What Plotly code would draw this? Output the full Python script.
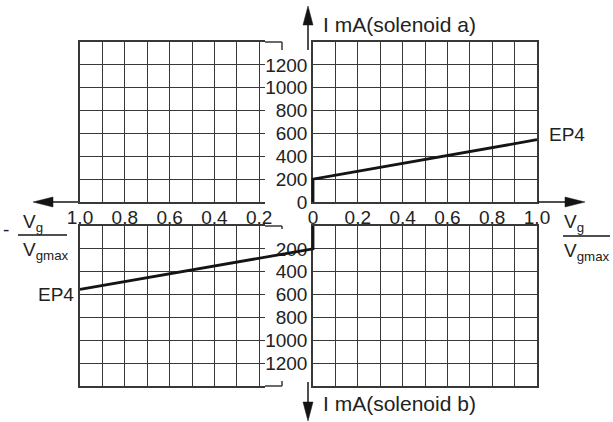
import plotly.graph_objects as go

# ---------------- data ----------------
ratio_a = [0.0, 0.0, 1.0]          # Vg/Vgmax (solenoid a side)
current_a = [0, 200, 545]          # I mA (solenoid a)
ratio_b = [0.0, 0.0, 1.0]          # -Vg/Vgmax (solenoid b side)
current_b = [0, 200, 555]          # I mA (solenoid b)

x_right_ticks = [0.0, 0.1, 0.2, 0.3, 0.4, 0.5, 0.6, 0.7, 0.8, 0.9, 1.0]
x_right_text = ["0", "", "0.2", "", "0.4", "", "0.6", "", "0.8", "", "1.0"]
x_left_ticks = [1.0, 0.9, 0.8, 0.7, 0.6, 0.5, 0.4, 0.3, 0.2]
x_left_text = ["1.0", "", "0.8", "", "0.6", "", "0.4", "", "0.2"]
y_ticks = [0, 200, 400, 600, 800, 1000, 1200, 1400]
y_top_text = ["0", "200", "400", "600", "800", "1000", "1200", ""]
y_bot_text = ["", "200", "400", "600", "800", "1000", "1200", ""]
curve_label = "EP4"
label_a = "I mA(solenoid a)"
label_b = "I mA(solenoid b)"

# ---------------- layout helpers ----------------
W, H = 613, 422
FONT = "Liberation Sans, Arial, sans-serif"
GRID = "#383838"
INK = "#141414"


def fx(p):
    return p / W


def fy(p):
    return 1 - p / H


# pixel geometry
L0, L1 = 80, 265          # left grids
R0, R1 = 313, 537         # right grids
T0, T1 = 42, 202          # top grids
B0, B1 = 226, 386         # bottom grids
PX_X = 224.0              # px per unit ratio (right)
PX_XL = 233.0             # px per unit ratio for left curve
PX_Y = 160.0 / 1400.0     # px per mA

fig = go.Figure()

common_grid = dict(showgrid=True, gridcolor=GRID, gridwidth=1.3, zeroline=False,
                   ticks="", showline=True, linecolor=GRID, linewidth=1.5,
                   automargin=False,
                   tickfont=dict(family=FONT, size=19, color="#222"), fixedrange=True)

left_range = [1.0, 1.0 - (L1 - L0) / PX_X]

layout = dict(
    width=W, height=H, margin=dict(l=0, r=0, t=0, b=0, autoexpand=False),
    paper_bgcolor="white", plot_bgcolor="rgba(0,0,0,0)", showlegend=False,
    # top-left
    xaxis=dict(common_grid, domain=[fx(L0), fx(L1)], anchor="y", range=left_range,
               tickmode="array", tickvals=x_left_ticks, ticktext=x_left_text,
               mirror=True, ticklabelstandoff=-3),
    yaxis=dict(common_grid, domain=[fy(T1), fy(T0)], anchor="x", range=[0, 1400],
               tickmode="array", tickvals=y_ticks, showticklabels=False, mirror=False),
    # top-right
    xaxis2=dict(common_grid, domain=[fx(R0), fx(R1)], anchor="y2", range=[0, 1],
                tickmode="array", tickvals=x_right_ticks, ticktext=x_right_text,
                mirror=True, ticklabelstandoff=-3),
    yaxis2=dict(common_grid, domain=[fy(T1), fy(T0)], anchor="x2", range=[0, 1400],
                tickmode="array", tickvals=y_ticks, ticktext=y_top_text, mirror=True,
                ticklabelstandoff=0),
    # bottom-left
    xaxis3=dict(common_grid, domain=[fx(L0), fx(L1)], anchor="y3", range=left_range,
                tickmode="array", tickvals=x_left_ticks, showticklabels=False, mirror=True),
    yaxis3=dict(common_grid, domain=[fy(B1), fy(B0)], anchor="x3", range=[1400, 0],
                tickmode="array", tickvals=y_ticks, showticklabels=False, mirror=False),
    # bottom-right
    xaxis4=dict(common_grid, domain=[fx(R0), fx(R1)], anchor="y4", range=[0, 1],
                tickmode="array", tickvals=x_right_ticks, showticklabels=False, mirror=True),
    yaxis4=dict(common_grid, domain=[fy(B1), fy(B0)], anchor="x4", range=[1400, 0],
                tickmode="array", tickvals=y_ticks, ticktext=y_bot_text, mirror=True,
                ticklabelstandoff=0),
)

# hidden axes for the curves (slightly larger than grids to avoid clipping)
cl0, cl1 = 75, 318
layout["xaxis5"] = dict(visible=False, domain=[fx(cl0), fx(cl1)], anchor="y5",
                        range=[(R0 - cl0) / PX_XL, (R0 - cl1) / PX_XL], fixedrange=True)
cb_top, cb_bot = 218, 394
layout["yaxis5"] = dict(visible=False, domain=[fy(cb_bot), fy(cb_top)], anchor="x5",
                        range=[(cb_bot - B0) / PX_Y, (cb_top - B0) / PX_Y], fixedrange=True)
cr0, cr1 = 305, 545
layout["xaxis6"] = dict(visible=False, domain=[fx(cr0), fx(cr1)], anchor="y6",
                        range=[(cr0 - R0) / PX_X, (cr1 - R0) / PX_X], fixedrange=True)
ct_top, ct_bot = 34, 210
layout["yaxis6"] = dict(visible=False, domain=[fy(ct_bot), fy(ct_top)], anchor="x6",
                        range=[(T1 - ct_bot) / PX_Y, (T1 - ct_top) / PX_Y], fixedrange=True)

fig.update_layout(**layout)

# dummy traces so grid subplots render
for i in ["", "2", "3", "4"]:
    fig.add_trace(go.Scatter(x=[], y=[], xaxis="x" + i, yaxis="y" + i,
                             mode="lines", hoverinfo="skip"))

fig.add_trace(go.Scatter(x=ratio_b, y=current_b, xaxis="x5", yaxis="y5", mode="lines",
                         line=dict(color=INK, width=2.8), hoverinfo="skip"))
fig.add_trace(go.Scatter(x=ratio_a, y=current_a, xaxis="x6", yaxis="y6", mode="lines",
                         line=dict(color=INK, width=2.8), hoverinfo="skip"))

shapes = []


def seg(x0, y0, x1, y1, w=1.5, c=GRID):
    shapes.append(dict(type="line", xref="paper", yref="paper",
                       x0=fx(x0), y0=fy(y0), x1=fx(x1), y1=fy(y1),
                       line=dict(color=c, width=w)))


def tri(pts):
    d = "M " + " L ".join(f"{fx(a)},{fy(b)}" for a, b in pts) + " Z"
    shapes.append(dict(type="path", xref="paper", yref="paper", path=d,
                       fillcolor=INK, line=dict(color=INK, width=0.5)))


# border extensions with small end ticks
seg(L1, T0, 282, T0); seg(282, T0, 282, T0 + 8)
seg(L1, B0, 282, B0); seg(282, B0, 282, B0 + 3)
seg(L1, B1, 282, B1); seg(282, B1, 282, B1 - 5)

# axis arrows
seg(308, 50, 308, 22, w=1.5, c=INK); tri([(303, 25), (313, 25), (308, 6)])
seg(308, 382, 308, 405, w=1.5, c=INK); tri([(303, 402), (313, 402), (308, 421)])
seg(L0 - 2, T1, 50, T1, w=1.5, c=INK); tri([(53, T1 - 5), (53, T1 + 5), (33, T1)])
seg(R1 + 1, T1, 568, T1, w=1.5, c=INK); tri([(565, T1 - 5), (565, T1 + 5), (585, T1)])

# fraction bars
seg(18, 235, 67, 235, w=1.3, c=INK)
seg(563, 236, 610, 236, w=1.3, c=INK)

fig.update_layout(shapes=shapes)

ann = []


def text(t, x, y, size=18, xa="left"):
    ann.append(dict(text=t, x=fx(x), y=fy(y), xref="paper", yref="paper",
                    xanchor=xa, yanchor="middle", showarrow=False,
                    font=dict(family=FONT, size=size, color="#222")))


text(label_a, 321, 24, size=21)
text(label_b, 321, 403, size=21)
text(curve_label, 547, 134, size=19)
text(curve_label, 36, 294, size=19)
text("V<sub>g</sub>", 21, 223, size=19)
text("V<sub>gmax</sub>", 21, 251, size=19)
text("-", 1, 229, size=19)
text("V<sub>g</sub>", 562, 223, size=19)
text("V<sub>gmax</sub>", 562, 252, size=19)

fig.update_layout(annotations=ann)

fig.write_html("out.html", config={"displayModeBar": False},
               post_script="document.body.style.margin='0';document.body.style.overflow='hidden';")
